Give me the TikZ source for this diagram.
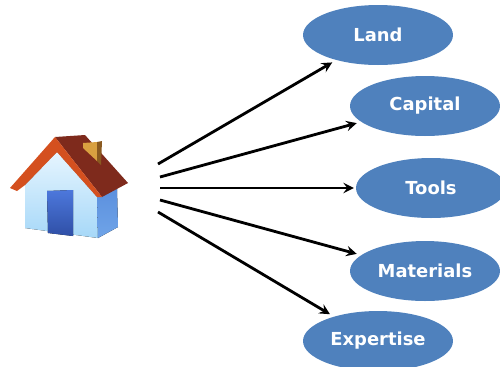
\documentclass[tikz,border=0pt]{standalone}
\usepackage{fontspec}
\setmainfont{DejaVu Sans}
\usetikzlibrary{shapes,arrows,positioning}
\definecolor{itemblue}{HTML}{4F81BD}
\definecolor{walltop}{HTML}{E6F5FF}
\definecolor{wallbottom}{HTML}{A6D8F8}
\definecolor{sidetop}{HTML}{5C90DE}
\definecolor{sidebottom}{HTML}{6FA4E8}
\definecolor{doortop}{HTML}{4D78DC}
\definecolor{doorbottom}{HTML}{2F4FA6}
\definecolor{roofback}{HTML}{7E2A1C}
\definecolor{rooffront}{HTML}{D4501F}
\definecolor{chimneyfront}{HTML}{D9A040}
\definecolor{chimneyside}{HTML}{8A5A20}

\begin{document}
\begin{tikzpicture}[
    x=0.02cm, y=-0.02cm,
    item/.style={ellipse, fill=itemblue, text=white, inner sep=0pt, minimum width=3cm, minimum height=1.2cm, font=\fontsize{10.2}{12}\selectfont\bfseries},
    arrow/.style={->, >=stealth, line width=1.6pt, black, shorten >=2.5pt}
]
    \useasboundingbox (0,0) rectangle (500,366);

    % house
    \fill[top color=walltop, bottom color=wallbottom] (57,152) -- (97,197) -- (98,238) -- (25,228) -- (25,185) -- cycle;
    \fill[top color=sidetop, bottom color=sidebottom] (97,197) -- (117,189) -- (118,227) -- (98,238) -- cycle;
    \fill[top color=doortop, bottom color=doorbottom] (47,191) -- (73,190) -- (73,236) -- (48,233) -- cycle;
    \fill[roofback] (55,137) -- (85,135) -- (128,183) -- (102,197) -- cycle;
    \fill[chimneyfront] (83,143) -- (97,142) -- (97,161) -- (83,148) -- cycle;
    \fill[chimneyside] (97,142) -- (102,141) -- (101,165) -- (97,161) -- cycle;
    \fill[rooffront] (55,137) -- (102,197) -- (97,197) -- (57,152) -- (25,185) -- (17,191) -- (10,188) -- cycle;

    \coordinate (house1) at (158,164);
    \coordinate (house2) at (160,177);
    \coordinate (house3) at (160,188);
    \coordinate (house4) at (160,200);
    \coordinate (house5) at (158,212);

    \node[item] (land) at (378,35) {Land};
    \node[item] (capital) at (425,106) {Capital};
    \node[item] (tools) at (431,188) {Tools};
    \node[item] (materials) at (425,271) {Materials};
    \node[item] (expertise) at (378,341) {Expertise};

    \draw[arrow] (house1) -- (land.211);
    \draw[arrow] (house2) -- (capital.194);
    \draw[arrow, shorten >=1pt] (house3) -- (tools.west);
    \draw[arrow] (house4) -- (materials.166);
    \draw[arrow] (house5) -- (expertise.151);
\end{tikzpicture}
\end{document}
